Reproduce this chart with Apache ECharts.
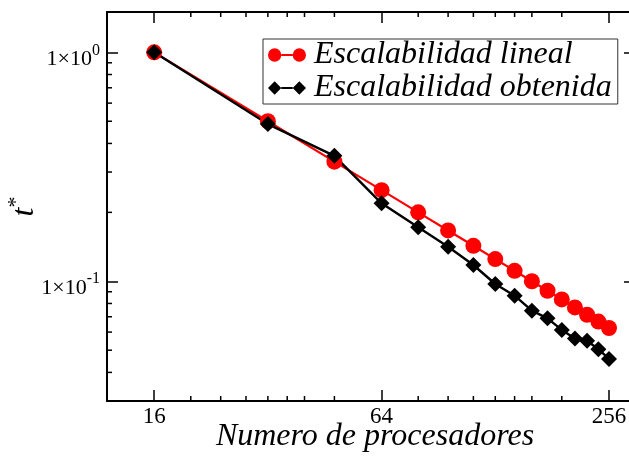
<!DOCTYPE html>
<html><head><meta charset="utf-8">
<script src="https://cdn.jsdelivr.net/npm/echarts@6/dist/echarts.min.js"></script>
<style>html,body{margin:0;padding:0;background:#fff}#c{width:629px;height:457px}</style>
</head><body><div id="c"></div>
<script>
// ---- data ----
const processors = [16, 32, 48, 64, 80, 96, 112, 128, 144, 160, 176, 192, 208, 224, 240, 256];
const linearScaling = [1.0, 0.5, 0.333, 0.25, 0.2, 0.1667, 0.1429, 0.125, 0.1111, 0.1, 0.0909, 0.0833, 0.0769, 0.0714, 0.0667, 0.0625];
const obtainedScaling = [1.0, 0.486, 0.353, 0.219, 0.172, 0.1416, 0.1178, 0.0973, 0.0865, 0.0744, 0.0689, 0.0613, 0.0563, 0.055, 0.0505, 0.0458];
const seriesNames = ['Escalabilidad lineal', 'Escalabilidad obtenida'];
const xTickLabels = [16, 64, 256];
const yTickValues = [0.1, 1];
const yTickExponents = ['-1', '0'];
const xMinorTicks = [20, 24, 28, 32, 36, 40, 48, 80, 96, 112, 128, 144, 160, 192];
const yMinorTicks = [0.04, 0.05, 0.06, 0.07, 0.08, 0.09, 0.2, 0.3, 0.4, 0.5, 0.6, 0.7, 0.8, 0.9];
const xAxisName = 'Numero de procesadores';

// ---- layout / style ----
const X_MIN = 12, X_MAX = 300, Y_MIN = 0.03, Y_MAX = 1.5;
const MAJOR_LEN = 11, MINOR_LEN = 5;
const SERIF = 'Liberation Serif';

const chart = echarts.init(document.getElementById('c'));

function xLabel(v) {
  for (const t of xTickLabels) if (Math.abs(v - t) < 1e-6 * t) return String(t);
  return '';
}
function yLabel(v) {
  for (let i = 0; i < yTickValues.length; i++) {
    if (Math.abs(v - yTickValues[i]) < 1e-6 * yTickValues[i]) return '{b|1×10}{e|' + yTickExponents[i] + '}';
  }
  return '';
}

const axisLineStyle = { color: '#000', width: 2 };
const tickStyle = { color: '#000', width: 1.5 };

function xAx(pos, showLabel) {
  return {
    type: 'log', logBase: 4, min: X_MIN, max: X_MAX, position: pos,
    axisLine: { show: true, lineStyle: axisLineStyle },
    axisTick: { show: true, inside: true, length: MAJOR_LEN, lineStyle: tickStyle },
    axisLabel: showLabel ? {
      show: true, margin: 4, formatter: xLabel,
      fontFamily: SERIF, fontSize: 23, color: '#000'
    } : { show: false },
    splitLine: { show: false },
    name: showLabel ? xAxisName : '', nameLocation: 'middle', nameGap: 20, nameMoveOverlap: false,
    nameTextStyle: { fontFamily: SERIF, fontStyle: 'italic', fontSize: 32, color: '#000', padding: [0, 0, 0, 8] }
  };
}
function yAx(pos, showLabel) {
  return {
    type: 'log', logBase: 10, min: Y_MIN, max: Y_MAX, position: pos,
    axisLine: { show: true, lineStyle: axisLineStyle },
    axisTick: { show: true, inside: true, length: MAJOR_LEN, lineStyle: tickStyle },
    axisLabel: showLabel ? {
      show: true, margin: 7, formatter: yLabel, padding: [14, 0, 0, 0],
      fontFamily: SERIF, fontSize: 22, color: '#000',
      rich: {
        b: { fontFamily: SERIF, fontSize: 22, color: '#000', lineHeight: 34 },
        e: { fontFamily: SERIF, fontSize: 16, color: '#000', lineHeight: 16, verticalAlign: 'top' }
      }
    } : { show: false },
    splitLine: { show: false },
    name: showLabel ? '{t|t}{s|*}' : '', nameLocation: 'middle', nameGap: 62, nameRotate: 90, nameMoveOverlap: false,
    nameTextStyle: {
      fontFamily: SERIF, fontSize: 32, color: '#000',
      rich: {
        t: { fontFamily: SERIF, fontStyle: 'italic', fontSize: 32, color: '#000', lineHeight: 40 },
        s: { fontFamily: SERIF, fontSize: 22, color: '#000', lineHeight: 22, verticalAlign: 'top' }
      }
    }
  };
}

const circlesIcon = 'path://M0,7 A7,7 0 1,0 14,7 A7,7 0 1,0 0,7 Z M26,7 A7,7 0 1,0 40,7 A7,7 0 1,0 26,7 Z M14,6 L26,6 L26,8 L14,8 Z';
const diamondsIcon = 'path://M0,7 L7,0 L14,7 L7,14 Z M26,7 L33,0 L40,7 L33,14 Z M14,6 L26,6 L26,8 L14,8 Z';

const tickLine = (x1, y1, x2, y2) => ({ type: 'line', shape: { x1, y1, x2, y2 }, style: { stroke: '#000', lineWidth: 1.5 } });

const option = {
  animation: false,
  backgroundColor: '#fff',
  grid: { left: 107, top: 12, right: -6, bottom: 56, containLabel: false, outerBoundsMode: 'none' },
  xAxis: [xAx('bottom', true), xAx('top', false)],
  yAxis: [yAx('left', true), yAx('right', false)],
  legend: {
    orient: 'vertical', left: 263, top: 39,
    borderColor: '#333', borderWidth: 1,
    padding: [0, 6, 0, 5], itemGap: 1,
    itemWidth: 38, itemHeight: 14,
    textStyle: { fontFamily: SERIF, fontStyle: 'italic', fontSize: 32, color: '#000', lineHeight: 30, padding: [0, 0, 0, 3] },
    data: [
      { name: seriesNames[0], icon: circlesIcon },
      { name: seriesNames[1], icon: diamondsIcon }
    ]
  },
  series: [
    {
      name: seriesNames[0], type: 'line', xAxisIndex: 0, yAxisIndex: 0,
      data: processors.map((p, i) => [p, linearScaling[i]]),
      symbol: 'circle', symbolSize: 16,
      lineStyle: { color: '#ff0000', width: 2.2 },
      itemStyle: { color: '#ff0000' }
    },
    {
      name: seriesNames[1], type: 'line', xAxisIndex: 0, yAxisIndex: 0,
      data: processors.map((p, i) => [p, obtainedScaling[i]]),
      symbol: 'diamond', symbolSize: 16,
      lineStyle: { color: '#000', width: 2.4 },
      itemStyle: { color: '#000' }
    },
    {
      name: 'xminor', type: 'custom', xAxisIndex: 0, yAxisIndex: 0, silent: true, clip: false,
      data: xMinorTicks.map(v => [v, Y_MIN]),
      encode: { x: 0, y: 1 },
      renderItem: (params, api) => {
        const v = api.value(0);
        const b = api.coord([v, Y_MIN]);
        const t = api.coord([v, Y_MAX]);
        return { type: 'group', children: [
          tickLine(b[0], b[1], b[0], b[1] - MINOR_LEN),
          tickLine(t[0], t[1], t[0], t[1] + MINOR_LEN)
        ] };
      }
    },
    {
      name: 'yminor', type: 'custom', xAxisIndex: 0, yAxisIndex: 0, silent: true, clip: false,
      data: yMinorTicks.map(v => [X_MIN, v]),
      encode: { x: 0, y: 1 },
      renderItem: (params, api) => {
        const v = api.value(1);
        const l = api.coord([X_MIN, v]);
        const r = api.coord([X_MAX, v]);
        return { type: 'group', children: [
          tickLine(l[0], l[1], l[0] + MINOR_LEN, l[1]),
          tickLine(r[0], r[1], r[0] - MINOR_LEN, r[1])
        ] };
      }
    }
  ]
};
chart.setOption(option);
</script>
</body></html>
